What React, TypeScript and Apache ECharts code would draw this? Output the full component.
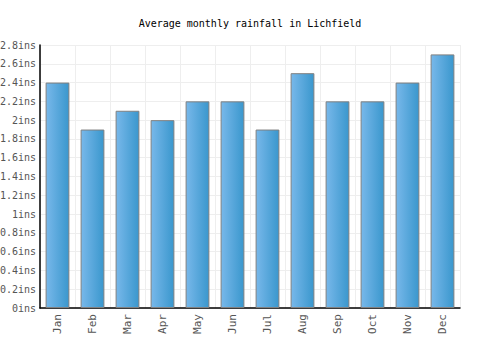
import React, { useEffect, useRef } from "react";
import * as echarts from "echarts";

const months = ["Jan", "Feb", "Mar", "Apr", "May", "Jun", "Jul", "Aug", "Sep", "Oct", "Nov", "Dec"];
const rainfall = [2.4, 1.9, 2.1, 2.0, 2.2, 2.2, 1.9, 2.5, 2.2, 2.2, 2.4, 2.7];
const yMax = 2.8;
const yStep = 0.2;

export default function App() {
  const ref = useRef<HTMLDivElement>(null);
  useEffect(() => {
    const chart = echarts.init(ref.current!, null, { renderer: "svg" });
    const font = "'DejaVu Sans Mono', monospace";
    chart.setOption({
      animation: false,
      title: {
        text: "Average monthly rainfall in Lichfield",
        left: "center",
        top: 13,
        textStyle: { fontFamily: font, fontSize: 10, fontWeight: "normal", color: "#000" },
      },
      grid: { left: 40, right: 40, top: 45, bottom: 42, containLabel: false, outerBoundsMode: "none" },
      xAxis: {
        type: "category",
        data: months,
        axisLine: { lineStyle: { color: "#000", width: 1.5 } },
        axisTick: { show: false },
        axisLabel: { rotate: 90, fontFamily: font, fontSize: 11, color: "#555", margin: 6, interval: 0 },
        splitLine: { show: true, interval: 0, lineStyle: { color: "#eeeeee", width: 1 } },
      },
      yAxis: {
        type: "value",
        min: 0,
        max: yMax,
        interval: yStep,
        axisLine: { show: true, lineStyle: { color: "#000", width: 1.5 } },
        axisTick: { show: false },
        axisLabel: {
          fontFamily: font,
          fontSize: 10,
          color: "#555",
          margin: 4,
          formatter: (v: number) => `${parseFloat(v.toFixed(1))}ins`,
        },
        splitLine: { show: true, lineStyle: { color: "#eeeeee", width: 1 } },
      },
      series: [
        {
          type: "bar",
          data: rainfall,
          barWidth: "68%",
          itemStyle: {
            color: new echarts.graphic.LinearGradient(0, 0, 1, 0, [
              { offset: 0, color: "#78b8ea" },
              { offset: 1, color: "#3a97cd" },
            ]),
            borderColor: "#808080",
            borderWidth: 1,
          },
        },
      ],
    });
    return () => chart.dispose();
  }, []);
  return <div ref={ref} style={{ width: 500, height: 350, position: "absolute", left: 0, top: 0 }} />;
}
